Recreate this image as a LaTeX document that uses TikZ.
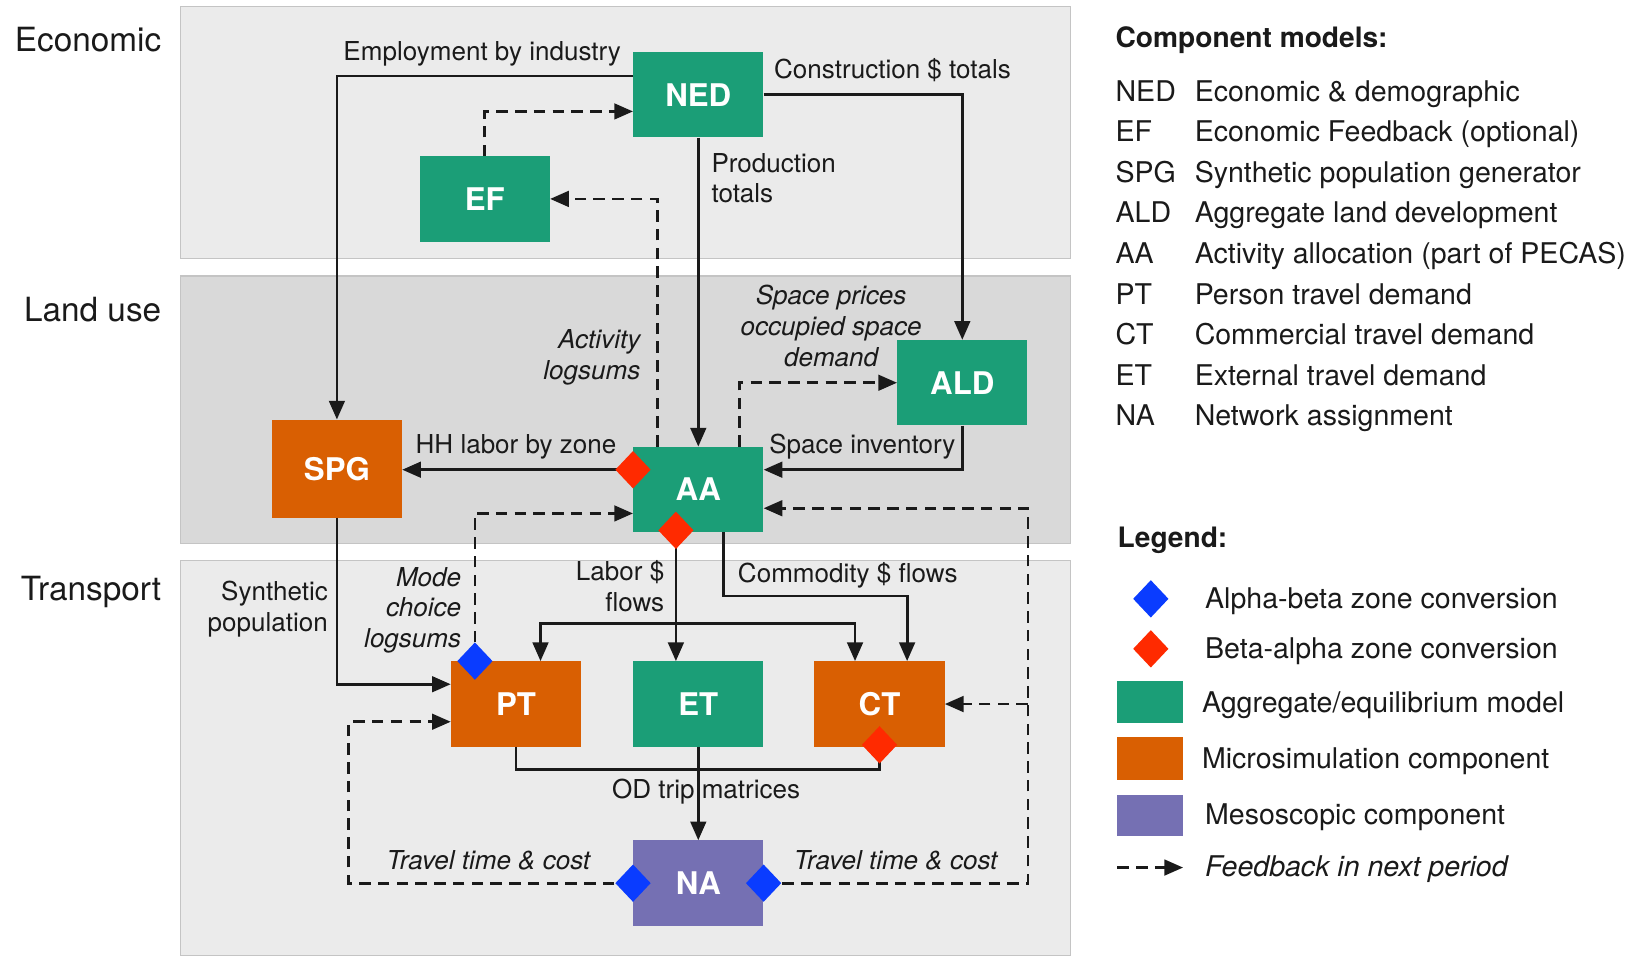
\documentclass[tikz,border=0pt]{standalone}
\usepackage{fontspec}
\setmainfont{TeX Gyre Heros}
\usetikzlibrary{arrows.meta,shapes.geometric}
\definecolor{aggr}{HTML}{1B9E77}
\definecolor{micro}{HTML}{D95F02}
\definecolor{meso}{HTML}{7570B3}
\definecolor{abconv}{HTML}{0A3CFF}
\definecolor{baconv}{HTML}{FF2A00}
\definecolor{panellight}{HTML}{EBEBEB}
\definecolor{paneldark}{HTML}{D9D9D9}
\definecolor{panelline}{HTML}{C4C4C4}
\definecolor{ink}{HTML}{1A1A1A}

\begin{document}
\begin{tikzpicture}[x=1pt,y=-1pt,
  model/.style={minimum width=125pt,minimum height=82pt,inner sep=0pt,text=white,
    font=\fontsize{30}{32}\selectfont\bfseries},
  conv/.style={shape=diamond,minimum width=34pt,minimum height=36pt,inner sep=0pt},
  ab/.style={conv,fill=abconv},
  ba/.style={conv,fill=baconv},
  flow/.style={draw=ink,line width=2.7pt},
  arr/.style={flow,-{Triangle[length=18pt,width=15pt]}},
  fb/.style={arr,dash pattern=on 11pt off 7pt},
  lbl/.style={text=ink,inner sep=0pt,font=\fontsize{25}{29.5}\selectfont},
  ilbl/.style={lbl,font=\fontsize{25}{29.5}\selectfont\itshape},
  side/.style={text=ink,inner sep=0pt,anchor=east,font=\fontsize{32}{34}\selectfont},
  head/.style={text=ink,inner sep=0pt,anchor=west,font=\fontsize{27}{30}\selectfont\bfseries},
  leg/.style={text=ink,inner sep=0pt,anchor=west,font=\fontsize{27.4}{30}\selectfont},
  panel/.style={draw=panelline,line width=1pt}
]
\useasboundingbox (0,0) rectangle (1568,919);

% layer panels
\filldraw[panel,fill=panellight] (173,6) rectangle (1028,248);
\filldraw[panel,fill=paneldark] (173,265) rectangle (1028,522);
\filldraw[panel,fill=panellight] (173,538) rectangle (1028,917);

\node[side] (secE) at (155,38) {Economic};
\node[side] (secL) at (155,297) {Land use};
\node[side] (secT) at (155,568) {Transport};

% component models
\node[model,fill=aggr] (NED) at (670.5,91) {NED};
\node[model,fill=aggr] (EF) at (465.5,191) {EF};
\node[model,fill=aggr] (ALD) at (924,367.5) {ALD};
\node[model,fill=micro,minimum height=94pt] (SPG) at (323.5,450) {SPG};
\node[model,fill=aggr] (AA) at (670.5,470) {AA};
\node[model,fill=micro] (PT) at (495.5,676) {PT};
\node[model,fill=aggr] (ET) at (670.5,676) {ET};
\node[model,fill=micro] (CT) at (844.5,676) {CT};
\node[model,fill=meso] (NA) at (670.5,848) {NA};

% helper points for the bends
\coordinate (labbar) at (649,599);
\coordinate (rtop) at (987,488);
\coordinate (rmid) at (987,676);
\coordinate (lcorner) at (335,693);

% economic links
\draw[arr] ([yshift=18pt]NED.west) -| (SPG.north);
\draw[fb] (EF.north) |- ([yshift=-16pt]NED.west);
\draw[arr] (NED.east) -| (ALD.north);
\draw[arr] (NED.south) -- (AA.north);

% land use links
\draw[fb] ([xshift=-39.5pt]AA.north) |- (EF.east);
\draw[fb] ([xshift=39.5pt]AA.north) |- (ALD.west);
\draw[arr] (ALD.south) |- ([yshift=19pt]AA.east);
\draw[arr] ([yshift=19pt]AA.west) -- ([yshift=19pt]AA.west -| SPG.east);
\draw[fb] ([xshift=-39.5pt]PT.north) |- ([yshift=-23pt]AA.west);

% transport links
\draw[arr] (SPG.south) |- ([yshift=19pt]PT.west);
\draw[arr] ([xshift=-21.5pt]AA.south) -- ([xshift=-21.5pt]ET.north);
\draw[arr] (labbar) -| ([xshift=23.5pt]PT.north);
\draw[arr] (labbar) -| ([xshift=-23.5pt]CT.north);
\draw[arr] ([xshift=24.5pt]AA.south) -- ++(0,61) -| ([xshift=26.5pt]CT.north);
\draw[flow] (PT.south) -- ++(0,22) -| (CT.south);
\draw[arr] (ET.south) -- (NA.north);

% feedback from network assignment
\draw[fb] (NA.east) -| (rtop) -- (rtop -| AA.east);
\draw[fb] (rmid) -- (CT.east);
\draw[fb] (NA.west) -| (lcorner) -- (lcorner -| PT.west);

% zone conversions
\node[ba] (cAAw) at ([yshift=19pt]AA.west) {};
\node[ba] (cAAs) at ([xshift=-21.5pt,yshift=2pt]AA.south) {};
\node[ab] (cPT) at ([xshift=-39.5pt]PT.north) {};
\node[ba] (cCT) at ([yshift=2pt]CT.south) {};
\node[ab] (cNAw) at (NA.west) {};
\node[ab] (cNAe) at (NA.east) {};

% link labels
\node[lbl] (tEmp) at (463,52) {Employment by industry};
\node[lbl] (tCon) at (857,67) {Construction \$ totals};
\node[lbl,anchor=west,align=left] (tProd) at (683,171) {Production\\totals};
\node[ilbl,anchor=east,align=right] (tAct) at (615,343) {Activity\\logsums};
\node[ilbl,align=center] (tSpace) at (798,313) {Space prices\\occupied space\\demand};
\node[lbl] (tHH) at (495.5,429) {HH labor by zone};
\node[lbl] (tInv) at (828,429) {Space inventory};
\node[ilbl,anchor=east,align=right] (tMode) at (443,586) {Mode\\choice\\logsums};
\node[lbl,anchor=east,align=right] (tSyn) at (315,585) {Synthetic\\population};
\node[lbl,anchor=east,align=right] (tLab) at (638,563) {Labor \$\\flows};
\node[lbl] (tCom) at (814,552) {Commodity \$ flows};
\node[lbl] (tOD) at (678,760) {OD trip matrices};
\node[ilbl] (tTL) at (469,826) {Travel time \& cost};
\node[ilbl] (tTR) at (860,826) {Travel time \& cost};

% component list
\node[head] (hComp) at (1071,39) {Component models:};
\foreach \ab/\desc [count=\i from 0] in {NED/Economic \& demographic,
    EF/Economic Feedback (optional),SPG/Synthetic population generator,
    ALD/Aggregate land development,AA/Activity allocation (part of PECAS),
    PT/Person travel demand,CT/Commercial travel demand,
    ET/External travel demand,NA/Network assignment}{
  \node[leg] (abbr\i) at (1071,91+39*\i) {\strut\ab};
  \node[leg] (desc\i) at (1147,91+39*\i) {\strut\desc};
}

% legend
\node[head] (hLeg) at (1073,519) {Legend:};
\node[ab] (kAB) at (1105,575) {};
\node[leg] (kABt) at (1157,578) {\strut Alpha-beta zone conversion};
\node[ba] (kBA) at (1105,623) {};
\node[leg] (kBAt) at (1157,626) {\strut Beta-alpha zone conversion};
\fill[aggr] (1073,654) rectangle (1136,694);
\node[leg] (kAgg) at (1154,678) {\strut Aggregate/equilibrium model};
\fill[micro] (1073,708) rectangle (1136,749);
\node[leg] (kMic) at (1154,732) {\strut Microsimulation component};
\fill[meso] (1073,763) rectangle (1136,803);
\node[leg] (kMes) at (1157,786) {\strut Mesoscopic component};
\coordinate (kFa) at (1073,833);
\coordinate (kFb) at (1136,833);
\draw[fb] (kFa) -- (kFb);
\node[leg,font=\fontsize{27.4}{30}\selectfont\itshape] (kFbt) at (1157,836) {\strut Feedback in next period};
\end{tikzpicture}
\end{document}
